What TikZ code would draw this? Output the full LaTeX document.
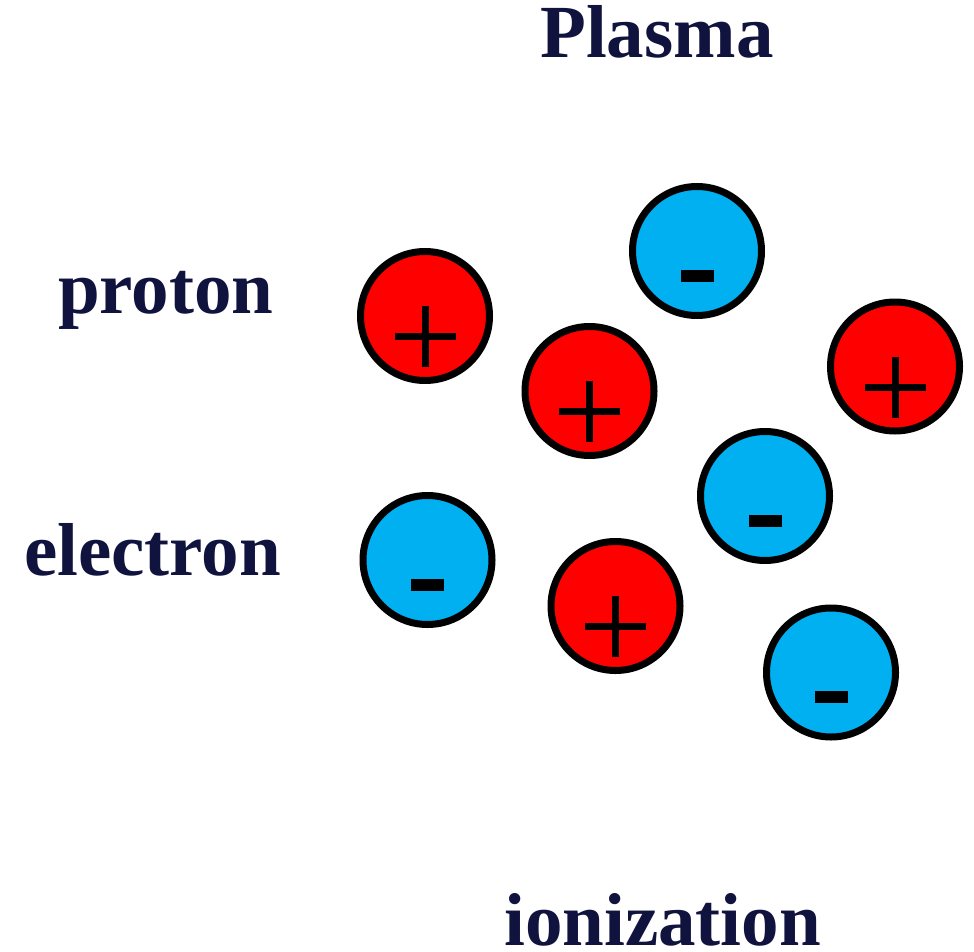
\documentclass[tikz,border=0pt]{standalone}
\usepackage{fontspec}
\setmainfont{Liberation Serif}
\definecolor{navy}{HTML}{11133F}
\definecolor{posred}{HTML}{FF0000}
\definecolor{negblue}{HTML}{00B0F0}
\tikzset{
  particle/.style={circle, draw=black, line width=7pt, minimum size=129pt, inner sep=0pt},
  proton/.style={particle, fill=posred},
  electron/.style={particle, fill=negblue},
  sign/.style={draw=black, line width=7pt},
  label/.style={text=navy, font=\fontsize{75}{80}\selectfont\bfseries, anchor=base west, inner sep=0pt}
}
\begin{document}
\begin{tikzpicture}[x=1pt, y=-1pt]
\useasboundingbox (0,0) rectangle (974,952);
\fill[white] (0,0) rectangle (974,952);

\node[label] (title) at (540,58) {Plasma};
\node[label] (protonlabel) at (58,313) {proton};
\node[label] (electronlabel) at (24,575) {electron};
\node[label, text depth=0pt] (ionlabel) at (504,945) {ionization};

\node[proton] (p1) at (425,316) {};
\node[proton] (p2) at (589.5,391) {};
\node[proton] (p3) at (895,366.5) {};
\node[proton] (p4) at (615.5,606) {};
\node[electron] (e1) at (697,251) {};
\node[electron] (e2) at (427.5,560) {};
\node[electron] (e3) at (765,496) {};
\node[electron] (e4) at (831,672.5) {};

\foreach \p in {p1,p2,p3,p4}{
  \draw[sign] (\p) ++(-30.5,20.5) -- ++(61,0);
  \draw[sign] (\p) ++(0,-10) -- ++(0,61);
}
\foreach \e in {e1,e2,e3,e4}{
  \fill[black] (\e) ++(-16.5,18.5) rectangle ++(33,12);
}
\end{tikzpicture}
\end{document}
